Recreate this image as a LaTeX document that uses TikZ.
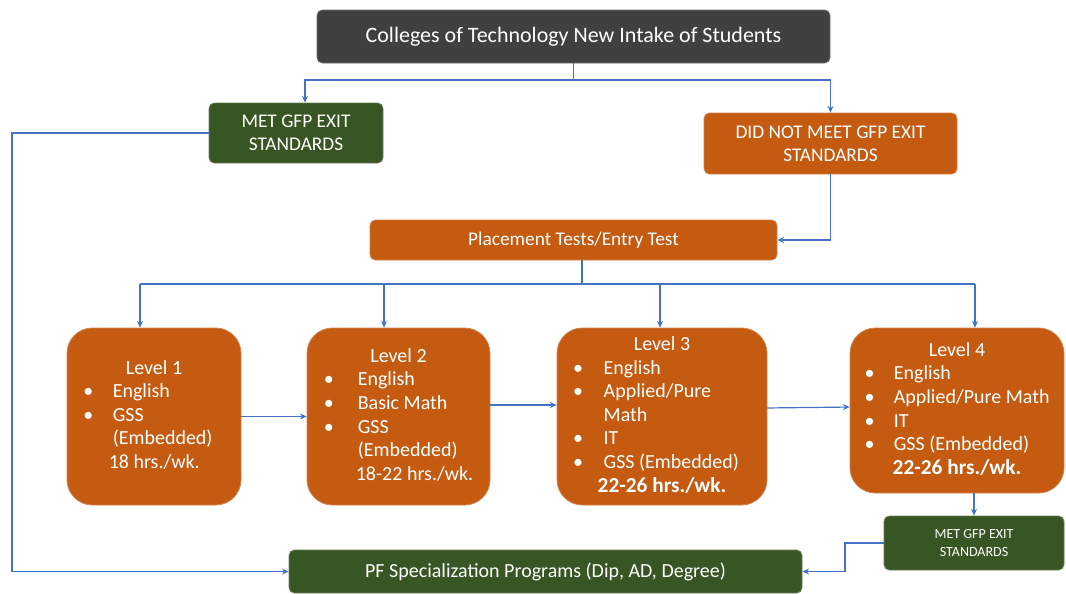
\documentclass[tikz,border=0pt]{standalone}
\usepackage{fontspec}
\setmainfont{Carlito}
\usetikzlibrary{arrows.meta}
\definecolor{orng}{HTML}{C55A11}
\definecolor{grn}{HTML}{375623}
\definecolor{drk}{HTML}{404040}
\definecolor{conn}{HTML}{4472C4}
\begin{document}
\begin{tikzpicture}[x=0.75pt,y=-0.75pt,
  box/.style={rectangle, rounded corners=4pt, text=white, align=center, inner sep=0pt,
    draw=#1!75!white, fill=#1, line width=0.6pt},
  lvl/.style={box=orng, rounded corners=19pt, font=\fontsize{15}{17.7}\selectfont},
  ln/.style={draw=conn, line width=0.9pt},
  arr/.style={ln, -{Stealth[length=5pt,width=4.5pt]}}
]
\useasboundingbox (0,0) rectangle (1066,593);

\node[box=drk, minimum width=384.75pt, minimum height=39.75pt, font=\fontsize{16.5}{19}\selectfont] (top) at (573.5,36.5) {Colleges of Technology New Intake of Students};
\node[box=grn, minimum width=130.5pt, minimum height=45pt, font=\fontsize{14.5}{17.5}\selectfont] (met) at (296,133) {MET GFP EXIT\\STANDARDS};
\node[box=orng, minimum width=189.75pt, minimum height=45.75pt, font=\fontsize{14.5}{17.5}\selectfont] (did) at (830.5,143.5) {DID NOT MEET GFP EXIT\\STANDARDS};
\node[box=orng, minimum width=305.25pt, minimum height=30pt, font=\fontsize{14.5}{17.5}\selectfont] (place) at (573.5,240) {Placement Tests/Entry Test};

\node[lvl, minimum width=130.5pt, minimum height=132.75pt] (l1) at (154,416.5) {%
\begin{tabular}{@{}p{22pt}@{}l@{\hspace{9pt}}}
\multicolumn{2}{c}{Level 1}\\
\textbullet & English\\
\textbullet & GSS\\
 & (Embedded)\\
\multicolumn{2}{@{}l@{}}{\hspace{19pt}18 hrs./wk.}
\end{tabular}};

\node[lvl, minimum width=137.25pt, minimum height=132.75pt] (l2) at (398.5,416.5) {%
\begin{tabular}{@{}p{25.5pt}@{}l@{}}
\multicolumn{2}{c}{Level 2}\\
\textbullet & English\\
\textbullet & Basic Math\\
\textbullet & GSS\\
 & (Embedded)\\
\multicolumn{2}{@{}l@{}}{\hspace{24pt}18-22 hrs./wk.}
\end{tabular}};

\node[lvl, minimum width=157.5pt, minimum height=132.75pt] (l3) at (662,416.5) {%
\begin{tabular}{@{}p{23pt}@{}l@{\hspace{9pt}}}
\multicolumn{2}{c}{Level 3}\\
\textbullet & English\\
\textbullet & Applied/Pure\\
 & Math\\
\textbullet & IT\\
\textbullet & GSS (Embedded)\\
\multicolumn{2}{c}{\fontsize{16}{17.7}\selectfont\bfseries 22-26 hrs./wk.}
\end{tabular}};

\node[lvl, minimum width=160.5pt, minimum height=123.75pt] (l4) at (957,410.5) {%
\begin{tabular}{@{}p{22pt}@{}l@{}}
\multicolumn{2}{c}{Level 4}\\
\textbullet & English\\
\textbullet & Applied/Pure Math\\
\textbullet & IT\\
\textbullet & GSS (Embedded)\\
\multicolumn{2}{c}{\fontsize{16}{17.7}\selectfont\bfseries 22-26 hrs./wk.}
\end{tabular}};

\node[box=grn, minimum width=135pt, minimum height=40.5pt, font=\fontsize{10.5}{13}\selectfont] (met2) at (974,543) {MET GFP EXIT\\STANDARDS};
\node[box=grn, minimum width=384.75pt, minimum height=32.25pt, font=\fontsize{15}{18}\selectfont] (pf) at (545.5,571.5) {PF Specialization Programs (Dip, AD, Degree)};

% connectors
\coordinate (j1) at (573.5,80);
\draw[ln] (top.south) -- (j1);
\draw[arr] (j1) -| ([xshift=6.75pt]met.north);
\draw[arr] (j1) -| (did.north);
\coordinate (lft) at (12,133);
\draw[arr] (met.west) -- (lft) |- (pf.west);
\draw[arr] (did.south) |- (place.east);

\coordinate (j2) at (582,284);
\coordinate (a1) at (140,284);
\coordinate (a2) at (384,284);
\coordinate (a3) at (660,284);
\coordinate (a4) at (975,284);
\draw[ln] (j2 |- place.south) -- (j2);
\draw[ln] (a1) -- (a4);
\draw[arr] (a1) -- (a1 |- l1.north);
\draw[arr] (a2) -- (a2 |- l2.north);
\draw[arr] (a3) -- (a3 |- l3.north);
\draw[arr] (a4) -- (a4 |- l4.north);

\draw[arr] (l1.east) -- (l2.west);
\draw[arr] ([yshift=8.6pt]l2.east) -- ([yshift=8.6pt]l3.west);
\draw[arr] ([yshift=6.4pt]l3.east) -- ([yshift=2.6pt]l4.west);
\draw[arr] (met2.north |- l4.south) -- (met2.north);
\coordinate (k) at (845,543);
\draw[arr] (met2.west) -- (k) |- (pf.east);
\end{tikzpicture}
\end{document}
